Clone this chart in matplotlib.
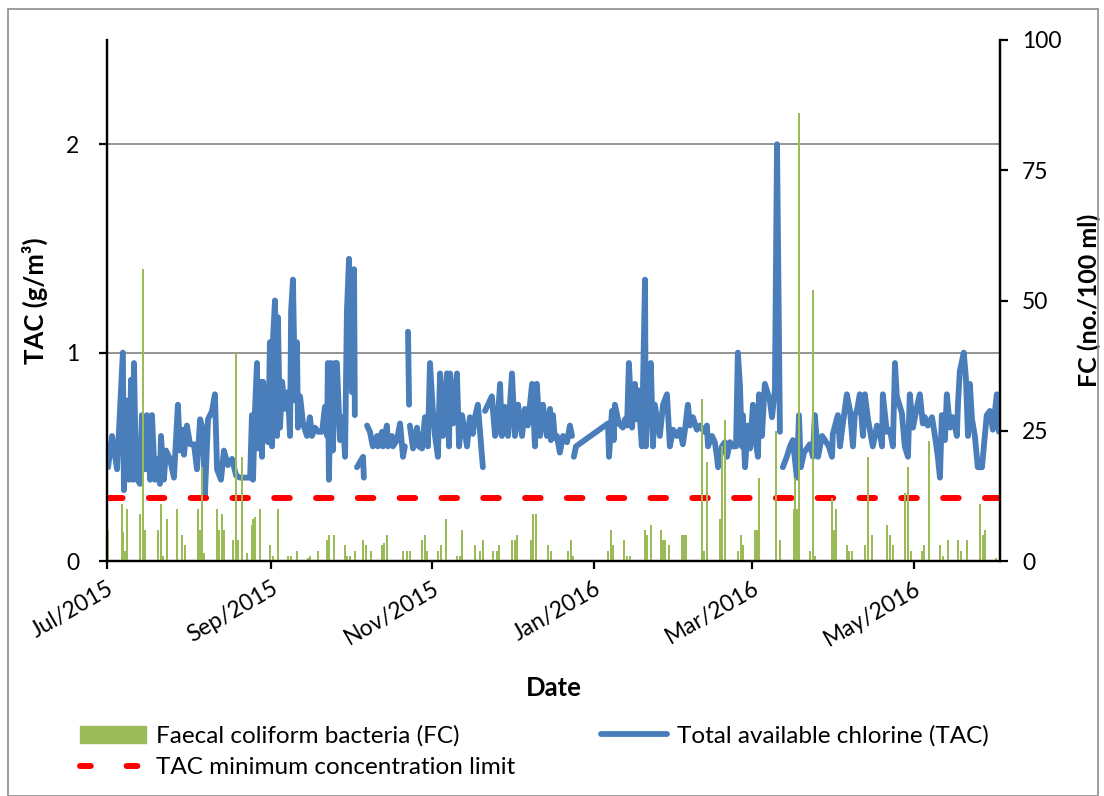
import datetime as dt
import numpy as np
import matplotlib
matplotlib.use("Agg")
import matplotlib.pyplot as plt
import matplotlib.dates as mdates
from matplotlib.patches import Rectangle
from matplotlib.lines import Line2D

plt.rcParams['font.family'] = ['Lato', 'DejaVu Sans']

START = dt.datetime(2015, 7, 1)
NAN = float('nan')

# Total available chlorine (g/m3): sampling day offset from 1 Jul 2015, value (NaN = gap)
tac_day = [0.4, 1.9, 3.8, 6.0, 6.4, 7.6, 8.3, 9.1, 9.8, 10.2, 11.0, 12.5, 13.2, 14.4, 15.1, 16.3,
           17.0, 18.1, 18.9, 20.0, 20.4, 21.5, 22.3, 23.8, 25.3, 26.8, 27.6, 28.4, 29.1, 30.2, 31.4,
           32.9, 34.0, 35.2, 36.3, 37.0, 38.2, 39.7, 40.8, 41.6, 43.1, 44.2, 45.7, 47.3, 48.8, 50.3,
           52.5, 54.1, 54.8, 55.2, 55.9, 56.7, 57.1, 57.8, 58.6, 59.0, 59.7, 60.9, 61.6, 62.4, 62.7,
           63.5, 64.3, 64.6, 65.4, 66.2, 67.3, 68.0, 68.4, 69.2, 69.6, 70.3, 71.1, 71.8, 72.2, 73.0,
           74.1, 75.6, 76.7, 77.5, 78.6, 79.8, 81.3, 82.4, 83.2, 83.5, 83.9, 84.7, 85.4, 86.2, 86.9,
           88.1, 89.2, 90.0, 90.7, 91.5, 92.6, 93.4, 93.7, 94.1,
           94.5, 96.8, 97.1, 97.7,
           98.3, 99.4, 100.5, 102.1, 102.4, 104.0, 104.3, 105.8, 106.2, 107.7, 108.1, 109.6, 110.8,
           111.9, 112.6, 113.2,
           113.8, 114.2, 114.3,
           114.5, 115.7, 117.2, 117.9, 119.1, 120.2, 121.3, 122.1, 123.2, 124.0, 125.1, 125.9, 127.0,
           128.5, 129.3, 129.7, 130.8, 132.3, 133.1, 134.2, 135.3, 136.1, 137.2, 138.3, 139.1, 140.2,
           142.1, 142.5,
           142.9, 145.5, 146.7, 147.4, 148.6, 149.3, 150.4, 151.6, 153.1, 154.2, 155.4, 156.9, 158.0,
           159.1, 160.7, 161.8, 162.5, 163.7, 164.8, 166.3, 167.5, 167.8, 168.6, 169.3, 170.1, 171.2,
           172.4, 173.9, 175.0, 175.8, 176.2,
           176.5, 177.3, 189.4, 189.8, 190.9, 191.6, 192.0, 193.5, 195.0, 195.8, 196.6, 197.3, 198.5,
           199.6, 200.0, 200.7, 202.2, 203.4, 203.7, 204.5, 205.6, 206.4, 207.1, 209.0, 210.2, 211.7,
           212.8, 214.0, 215.5, 216.6, 217.7, 218.5, 219.6, 220.4, 221.5, 223.0, 224.2, 225.7, 226.8,
           227.2, 228.7, 229.8, 230.6, 231.0, 232.5, 233.6, 234.4, 235.5, 236.6, 237.8, 238.5, 239.3,
           240.0, 240.4, 241.2, 242.3, 243.1, 244.2, 244.9, 246.1, 246.5, 247.6, 248.7, 250.6, 251.4,
           252.5, 253.3, 254.4, 255.0,
           255.5, 257.0, 258.2, 259.3, 260.8, 261.6, 262.3, 263.5, 264.6, 265.7, 266.9, 267.6, 268.8,
           270.3, 271.4, 272.9, 274.1, 274.4, 276.3, 277.1, 278.2, 279.7, 280.9, 282.0, 282.7, 283.5,
           284.6, 285.8, 286.5, 287.7, 289.5, 291.1, 292.2, 293.0, 293.3, 294.8, 296.0, 297.1, 297.9,
           298.6, 300.5, 301.6, 302.8, 303.5, 304.7, 306.2, 307.3, 308.4, 309.2, 310.3, 311.9, 313.0,
           314.1, 314.9, 315.6, 316.8, 317.5, 318.7, 319.8, 321.3, 321.7, 322.4, 323.9, 324.7, 325.5,
           326.2, 327.0, 328.1, 329.2, 330.8, 331.5, 332.6, 333.8, 334.9, 336.4, 337.2]
tac_val = [0.45, 0.60, 0.44, 1.00, 0.34, 0.77, 0.39, 0.87, 0.39, 0.95, 0.40, 0.37, 0.70, 0.44, 0.70, 0.39,
           0.70, 0.39, 0.49, 0.37, 0.60, 0.39, 0.53, 0.49, 0.40, 0.75, 0.53, 0.63, 0.51, 0.65, 0.56,
           0.56, 0.44, 0.68, 0.63, 0.31, 0.68, 0.72, 0.80, 0.44, 0.39, 0.53, 0.46, 0.49, 0.41, 0.40,
           0.40, 0.40, 0.70, 0.39, 0.71, 0.95, 0.54, 0.86, 0.50, 0.86, 0.69, 0.57, 1.05, 0.55, 1.05,
           1.25, 0.60, 1.17, 0.64, 0.86, 0.73, 0.79, 0.81, 0.60, 1.20, 1.35, 0.77, 1.05, 0.64, 0.79,
           0.66, 0.60, 0.69, 0.60, 0.64, 0.62, 0.62, 0.74, 0.60, 0.95, 0.39, 0.95, 0.53, 0.95, 0.95,
           0.58, 0.69, 0.50, 1.20, 1.45, 0.81, 1.40, 0.70, NAN,
           0.45, 0.50, 0.40, NAN,
           0.65, 0.62, 0.55, 0.60, 0.55, 0.62, 0.55, 0.65, 0.55, 0.60, 0.55, 0.58, 0.66,
           0.50, 0.55, NAN,
           1.10, 0.75, NAN,
           0.65, 0.54, 0.64, 0.55, 0.54, 0.69, 0.55, 0.95, 0.72, 0.60, 0.50, 0.90, 0.60,
           0.90, 0.55, 0.90, 0.66, 0.90, 0.55, 0.70, 0.62, 0.55, 0.69, 0.61, 0.69, 0.75,
           0.45, NAN,
           0.72, 0.79, 0.60, 0.62, 0.85, 0.60, 0.74, 0.60, 0.90, 0.60, 0.75, 0.60, 0.73,
           0.65, 0.85, 0.55, 0.85, 0.60, 0.75, 0.60, 0.73, 0.58, 0.70, 0.59, 0.60, 0.52,
           0.60, 0.57, 0.65, 0.60, NAN,
           0.50, 0.55, 0.66, 0.50, 0.72, 0.58, 0.75, 0.66, 0.64, 0.68, 0.65, 0.95, 0.64,
           0.85, 0.68, 0.82, 0.55, 1.35, 0.55, 0.80, 0.95, 0.55, 0.75, 0.60, 0.75, 0.80,
           0.55, 0.63, 0.60, 0.63, 0.56, 0.63, 0.75, 0.65, 0.69, 0.63, 0.65, 0.62, 0.65,
           0.55, 0.60, 0.57, 0.50, 0.45, 0.55, 0.57, 0.50, 0.57, 0.55, 0.55, 1.00, 0.84,
           0.55, 0.70, 0.45, 0.65, 0.54, 0.75, 0.60, 0.50, 0.80, 0.60, 0.85, 0.77, 0.69,
           0.82, 2.00, 0.62, NAN,
           0.45, 0.50, 0.55, 0.58, 0.40, 0.70, 0.45, 0.52, 0.54, 0.56, 0.50, 0.70, 0.50,
           0.60, 0.58, 0.55, 0.50, 0.61, 0.70, 0.55, 0.66, 0.80, 0.72, 0.55, 0.70, 0.72,
           0.80, 0.60, 0.80, 0.68, 0.55, 0.65, 0.61, 0.55, 0.80, 0.62, 0.63, 0.55, 0.95,
           0.79, 0.71, 0.55, 0.50, 0.80, 0.64, 0.74, 0.80, 0.66, 0.69, 0.65, 0.69, 0.60,
           0.50, 0.40, 0.70, 0.58, 0.80, 0.64, 0.69, 0.60, 0.75, 0.91, 1.00, 0.88, 0.60,
           0.85, 0.68, 0.60, 0.45, 0.45, 0.55, 0.70, 0.72, 0.63, 0.80, 0.62]

# Faecal coliform bacteria (no./100 ml)
fc_day = [0.4, 5.7, 6.0, 6.8, 7.6, 12.5, 13.6, 14.4, 19.3, 20.4, 21.2, 22.7, 26.5, 28.4, 29.5,
          34.4, 35.2, 35.9, 36.7, 41.6, 42.3, 43.5, 44.2, 47.6, 48.8, 49.5, 51.0, 52.9, 54.8, 55.2,
          55.9, 57.8, 61.6, 62.7, 64.6, 68.4, 69.6, 71.8, 76.0, 76.7, 79.8, 83.2, 83.9, 85.8, 90.0,
          90.7, 91.9, 93.7, 96.8, 97.9, 99.8, 104.0, 104.7, 105.8, 111.9, 113.4, 114.5, 119.1, 120.2,
          121.0, 125.1, 126.3, 128.1, 132.3, 133.4, 134.2, 139.1, 141.0, 142.1, 145.9, 147.4, 148.2,
          153.1, 154.2, 155.0, 160.3, 161.0, 162.2, 166.7, 167.8, 174.3, 175.4, 176.1, 189.4, 190.5,
          191.3, 195.4, 196.6, 197.7, 203.4, 204.1, 205.6, 209.4, 210.2, 210.9, 212.4, 217.3, 218.1,
          218.9, 224.9, 225.7, 226.8, 231.7, 232.5, 233.6, 238.5, 239.7, 240.4, 244.9, 245.7, 246.5,
          252.9, 254.4, 259.7, 260.1, 260.8, 261.6, 265.7, 266.9, 267.6, 274.1, 274.8, 275.6, 279.7,
          280.5, 281.6, 286.5, 287.7, 289.2, 294.8, 296.0, 297.1, 301.6, 302.8, 303.9, 308.1, 308.8,
          310.7, 314.9, 316.0, 317.9, 321.7, 322.8, 325.1, 330.0, 331.1, 331.9, 336.0]
fc_val = [6, 11, 5.6, 2, 10, 9, 56, 6, 6, 11, 1, 8, 10, 5, 3,
          10, 6, 18, 1.5, 10, 6, 9, 6, 4, 40, 4, 20, 1.5, 7, 8,
          8.5, 10, 3, 1, 10, 1, 1, 2, 0.6, 1, 2, 4, 5, 5, 3,
          1, 1, 2, 4, 3, 2, 3, 3.5, 5, 2, 2, 2, 4, 5,
          2, 2, 3, 8, 1, 1, 6, 3, 2, 4, 2, 2, 3,
          4, 4, 5, 4, 9, 9, 3, 2, 2, 4, 1, 2, 6,
          3, 4, 1, 1, 6, 5, 7, 6, 4, 4, 3, 5, 5,
          5, 31, 2, 19, 8, 22, 27, 2, 5, 3, 6, 6, 16,
          25, 4, 10, 16, 10, 86, 2, 52, 1, 12, 6, 10, 3,
          2, 2, 3, 20, 5, 7, 5, 3, 13, 18, 2, 2, 3,
          23, 3, 1, 4, 4, 2, 4, 11, 5, 6, 0.5]

tac_limit = 0.3
x_end_day = 337.6

tac_dates = [START + dt.timedelta(days=d) for d in tac_day]
fc_dates = [START + dt.timedelta(days=d) for d in fc_day]
x0, x1 = START, START + dt.timedelta(days=x_end_day)

fig = plt.figure(figsize=(11.04, 7.96), dpi=100)
ax = fig.add_axes([107/1104, 1-561/796, (1000-107)/1104, (561-40)/796])
ax2 = ax.twinx()

blue = '#4A7EBB'
green = '#9BBB59'
red = '#FF0000'

tac_line, = ax.plot(tac_dates, tac_val, color=blue, lw=4.2, solid_capstyle='round',
                    solid_joinstyle='round', zorder=3)
ax.plot([x0, x1], [tac_limit, tac_limit], color=red, lw=4.3,
        dashes=(2.6, 4.4), dash_capstyle='round', zorder=4)
bars = ax2.bar(fc_dates, fc_val, width=0.9, color=green)

ax.set_ylim(0, 2.5)
ax2.set_ylim(0, 100)
ax.set_xlim(x0, x1)
ax.set_yticks([0, 1, 2])
ax2.set_yticks([0, 25, 50, 75, 100])
ax.yaxis.grid(True, color='#8C8C8C', lw=1.3)
ax.set_axisbelow(True)

ax.xaxis.set_major_locator(mdates.MonthLocator(bymonth=[1, 3, 5, 7, 9, 11]))
ax.xaxis.set_major_formatter(mdates.DateFormatter('%b/%Y'))

for a in (ax, ax2):
    for s in a.spines.values():
        s.set_linewidth(1.6)
    a.spines['top'].set_visible(False)
ax.tick_params(axis='y', length=6, width=1.6, labelsize=16.5, pad=14)
ax2.tick_params(axis='y', length=6, width=1.6, labelsize=16.5, pad=10)
ax.tick_params(axis='x', length=6, width=1.6, labelsize=16.5, pad=6)
for lbl in ax.get_xticklabels():
    lbl.set_rotation(30)
    lbl.set_ha('right')
    lbl.set_rotation_mode('anchor')

ax.set_ylabel('TAC (g/m³)', fontsize=18.5, fontweight='bold', va='center')
ax.yaxis.set_label_coords(-0.081, 0.5)
ax2.set_ylabel('FC (no./100 ml)', fontsize=18, fontweight='bold', va='center')
ax2.yaxis.set_label_coords(1.0995, 0.5)
ax.set_xlabel('Date', fontsize=18.5, fontweight='bold', va='center')
ax.xaxis.set_label_coords(0.5, -0.244)

fc_handle = Rectangle((0, 0), 1, 1, color=green)
lim_handle = Line2D([], [], color=red, lw=4.3, dashes=(1.8, 6.0), dash_capstyle='round')
fig.legend(handles=[fc_handle, lim_handle, tac_line],
           labels=['Faecal coliform bacteria (FC)', 'TAC minimum concentration limit',
                   'Total available chlorine (TAC)'],
           ncol=2, loc='upper left',
           bbox_to_anchor=(80/1104, 1-725/796), frameon=False, fontsize=17.5,
           borderpad=0, borderaxespad=0,
           handlelength=2.7, handleheight=0.7, handletextpad=0.41, columnspacing=3.55,
           labelspacing=0.45)

fig.add_artist(Rectangle((8/1104, 0), 1090/1104, 1-9/796, transform=fig.transFigure,
                         fill=False, edgecolor='#8C8C8C', lw=1.2))

fig.savefig('out.png', dpi=100)
